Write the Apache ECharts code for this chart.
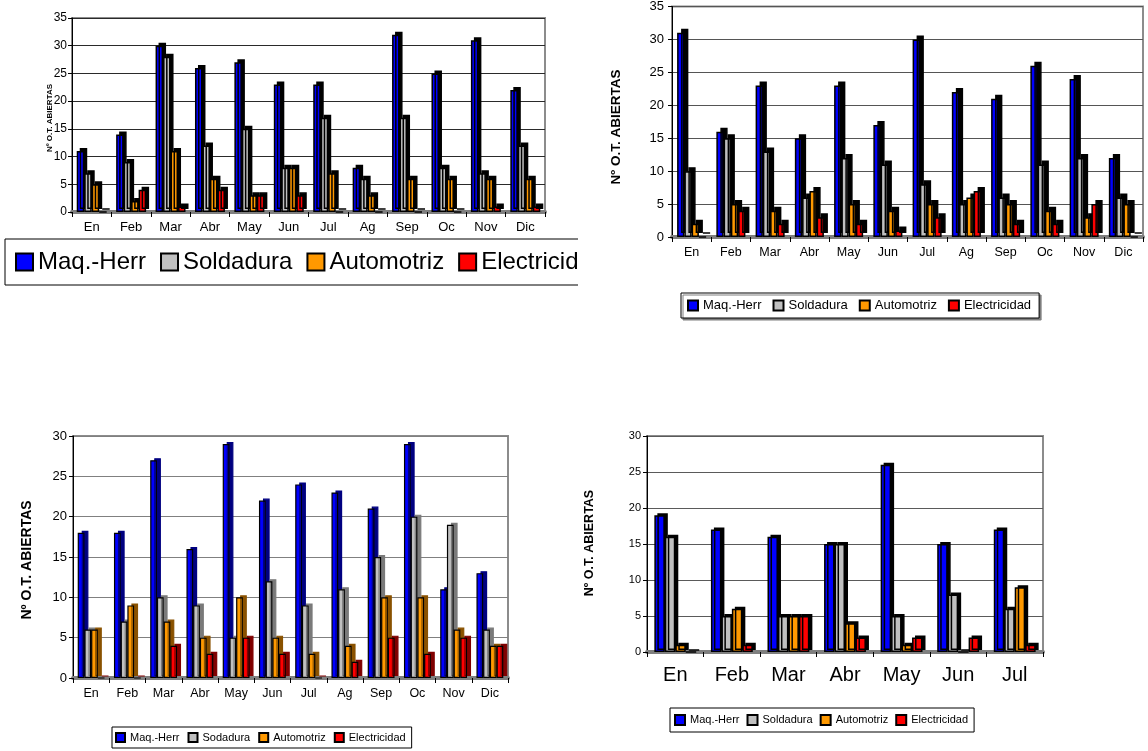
<!DOCTYPE html>
<html>
<head>
<meta charset="utf-8">
<script src="https://cdn.jsdelivr.net/npm/echarts@6/dist/echarts.min.js"></script>
<style>
  html, body { margin: 0; padding: 0; background: #fff; width: 1148px; height: 751px; overflow: hidden; }
  .chart { position: absolute; }
</style>
</head>
<body>
<div id="c1" class="chart" style="left:0;top:0;width:578px;height:335px"></div>
<div id="c2" class="chart" style="left:580px;top:0;width:568px;height:335px"></div>
<div id="c3" class="chart" style="left:0;top:400px;width:578px;height:351px"></div>
<div id="c4" class="chart" style="left:580px;top:400px;width:568px;height:351px"></div>
<script>
// Months shown on the category axes
const months12 = ['En', 'Feb', 'Mar', 'Abr', 'May', 'Jun', 'Jul', 'Ag', 'Sep', 'Oc', 'Nov', 'Dic'];
const months7 = ['En', 'Feb', 'Mar', 'Abr', 'May', 'Jun', 'Jul'];

// Area names in the legends
const areaNames = ['Maq.-Herr', 'Soldadura', 'Automotriz', 'Electricidad'];
const areaNamesAlt = ['Maq.-Herr', 'Sodadura', 'Automotriz', 'Electricidad'];
const axisTitle = 'Nº O.T. ABIERTAS';

// Work orders opened per month — first year
const y1Maq = [11, 14, 30, 26, 27, 23, 23, 8, 32, 25, 31, 22];
const y1Sol = [7, 9, 28, 12, 15, 8, 17, 6, 17, 8, 7, 12];
const y1Aut = [5, 2, 11, 6, 3, 8, 7, 3, 6, 6, 6, 6];
const y1Ele = [0, 4, 1, 4, 3, 3, 0, 0, 0, 0, 1, 1];

// Second year
const y2Maq = [31, 16, 23, 15, 23, 17, 30, 22, 21, 26, 24, 12];
const y2Sol = [10, 15, 13, 6, 12, 11, 8, 5, 6, 11, 12, 6];
const y2Aut = [2, 5, 4, 7, 5, 4, 5, 6, 5, 4, 3, 5];
const y2Ele = [0, 4, 2, 3, 2, 1, 3, 7, 2, 2, 5, 0];

// Third year
const y3Maq = [18, 18, 27, 16, 29, 22, 24, 23, 21, 29, 11, 13];
const y3Sol = [6, 7, 10, 9, 5, 12, 9, 11, 15, 20, 19, 6];
const y3Aut = [6, 9, 7, 5, 10, 5, 3, 4, 10, 10, 6, 4];
const y3Ele = [0, 0, 4, 3, 5, 3, 0, 2, 5, 3, 5, 4];

// Fourth year (January to July)
const y4Maq = [19, 17, 16, 15, 26, 15, 17];
const y4Sol = [16, 5, 5, 15, 5, 8, 6];
const y4Aut = [1, 6, 5, 4, 1, 0, 9];
const y4Ele = [0, 1, 5, 2, 2, 2, 1];

const FONT = "'Liberation Sans', Arial, sans-serif";
const faceColors = ['#0000FF', '#C0C0C0', '#FF9900', '#FF0000'];
const sideColors = ['#000080', '#7A7A7A', '#8A5200', '#800000'];

function makeOption(cfg) {
  return {
    animation: false,
    textStyle: { fontFamily: FONT },
    grid: {
      left: cfg.grid[0], top: cfg.grid[1], width: cfg.grid[2], height: cfg.grid[3],
      show: true, borderColor: '#8c8c8c', borderWidth: 2, backgroundColor: 'transparent'
    },
    xAxis: {
      type: 'category',
      data: cfg.categories,
      axisLine: { show: true, lineStyle: { color: '#7f7f7f', width: 4 } },
      axisTick: { show: true, length: 5, lineStyle: { color: '#000', width: 1 } },
      axisLabel: { color: '#000', fontSize: cfg.xFont, margin: cfg.xMargin, fontFamily: FONT },
      splitLine: { show: false }
    },
    yAxis: {
      type: 'value', min: 0, max: cfg.max, interval: 5,
      axisLine: { show: true, lineStyle: { color: '#000', width: 1 } },
      axisTick: { show: true, length: 4, lineStyle: { color: '#000' } },
      axisLabel: { color: '#000', fontSize: cfg.yFont, margin: cfg.yMargin, fontFamily: FONT },
      splitLine: { show: true, lineStyle: { color: cfg.gridColor, width: 1 } }
    },
    legend: Object.assign({
      orient: 'horizontal',
      icon: 'rect',
      width: 1400,
      borderColor: '#000',
      borderWidth: 1,
      backgroundColor: '#fff',
      textStyle: { color: '#000', fontFamily: FONT, fontSize: cfg.legend.fontSize },
      itemStyle: { borderColor: '#000', borderWidth: cfg.legend.iconBorder, shadowBlur: 0, shadowColor: 'rgba(0,0,0,0)', shadowOffsetX: 0, shadowOffsetY: 0 }
    }, cfg.legend.box),
    graphic: [{
      type: 'text',
      x: cfg.title.x, y: cfg.title.y,
      rotation: Math.PI / 2,
      style: {
        text: axisTitle, fill: '#000',
        font: 'bold ' + cfg.title.size + 'px ' + FONT,
        textAlign: 'center', textVerticalAlign: 'middle'
      }
    }],
    series: cfg.values.map((vals, i) => ({
      type: 'bar',
      name: cfg.names[i],
      data: vals,
      barGap: '0%',
      barCategoryGap: cfg.gap,
      itemStyle: {
        color: faceColors[i],
        borderColor: '#000',
        borderWidth: cfg.bw,
        shadowColor: cfg.shaded ? sideColors[i] : '#000',
        shadowBlur: 0,
        shadowOffsetX: cfg.depth[0],
        shadowOffsetY: -cfg.depth[1]
      }
    }))
  };
}

const charts = [
  {
    id: 'c1',
    categories: months12, names: areaNames, values: [y1Maq, y1Sol, y1Aut, y1Ele],
    max: 35, grid: [72, 18, 473, 194], xFont: 13, xMargin: 9, yFont: 12, yMargin: 5,
    gridColor: '#2a2a2a', gap: '24%', bw: 1.5, depth: [3, 3], shaded: false,
    title: { x: 50, y: 118, size: 8 },
    legend: {
      fontSize: 24, iconBorder: 2,
      box: { left: 5, top: 239, itemWidth: 17, itemHeight: 17, itemGap: 14, padding: [11, 10, 11, 10] }
    }
  },
  {
    id: 'c2',
    categories: months12, names: areaNames, values: [y2Maq, y2Sol, y2Aut, y2Ele],
    max: 35, grid: [92, 6, 471, 231], xFont: 12.5, xMargin: 9, yFont: 13, yMargin: 8,
    gridColor: '#555555', gap: '26%', bw: 1.5, depth: [4, 4], shaded: false,
    title: { x: 36, y: 127, size: 13.5 },
    legend: {
      fontSize: 13, iconBorder: 2,
      box: { left: 101, top: 293, itemWidth: 10, itemHeight: 10, itemGap: 11, padding: [6, 8, 6, 6],
             shadowColor: '#7f7f7f', shadowBlur: 0, shadowOffsetX: 2, shadowOffsetY: 2 }
    }
  },
  {
    id: 'c3',
    categories: months12, names: areaNamesAlt, values: [y3Maq, y3Sol, y3Aut, y3Ele],
    max: 30, grid: [73, 36, 435, 242], xFont: 12.5, xMargin: 9, yFont: 13, yMargin: 6,
    gridColor: '#808080', gap: '26%', bw: 1.2, depth: [4, 2], shaded: true,
    title: { x: 27, y: 160, size: 14 },
    legend: {
      fontSize: 11, iconBorder: 2,
      box: { left: 112, top: 327, itemWidth: 9, itemHeight: 9, itemGap: 8, padding: [5, 6, 5, 3] }
    }
  },
  {
    id: 'c4',
    categories: months7, names: areaNames, values: [y4Maq, y4Sol, y4Aut, y4Ele],
    max: 30, grid: [67, 36, 396, 216], xFont: 20, xMargin: 13, yFont: 11, yMargin: 6,
    gridColor: '#5a5a5a', gap: '26%', bw: 1.5, depth: [3, 2], shaded: false,
    title: { x: 10, y: 143, size: 12.5 },
    legend: {
      fontSize: 11, iconBorder: 2,
      box: { left: 90, top: 308, itemWidth: 10, itemHeight: 10, itemGap: 7, padding: [6, 6, 6, 4] }
    }
  }
];

charts.forEach(cfg => {
  const chart = echarts.init(document.getElementById(cfg.id), null, { renderer: 'canvas' });
  chart.setOption(makeOption(cfg));
});
</script>
</body>
</html>
